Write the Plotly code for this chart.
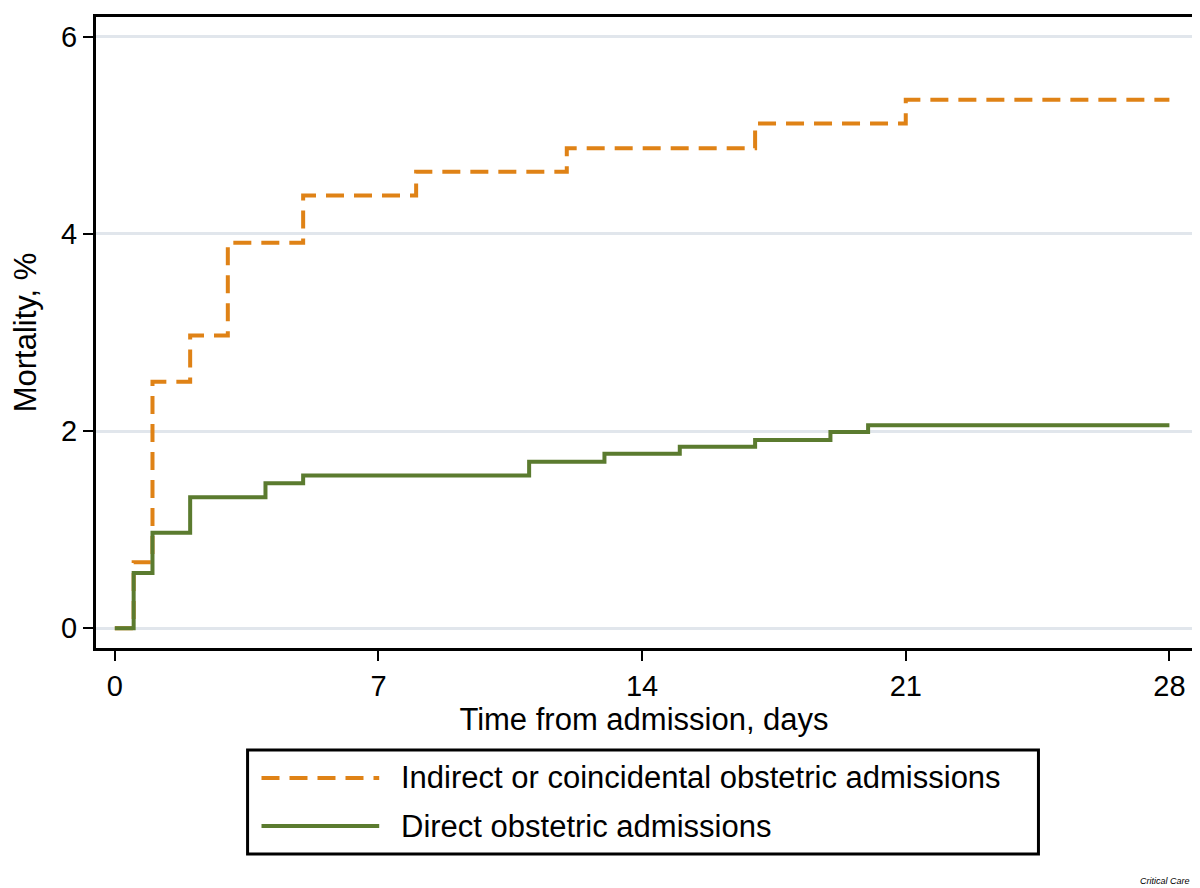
import plotly.graph_objects as go

# Data (days, mortality %)
indirect_days = [0, 0.5, 1, 2, 3, 5, 8, 12, 17, 21, 28]
indirect_mort = [0, 0.67, 2.50, 2.97, 3.91, 4.39, 4.63, 4.87, 5.12, 5.36, 5.36]

direct_days = [0, 0.5, 1, 2, 4, 5, 11, 13, 15, 17, 19, 20, 28]
direct_mort = [0, 0.56, 0.97, 1.33, 1.47, 1.55, 1.69, 1.77, 1.84, 1.91, 1.99, 2.06, 2.06]

x_ticks = [0, 7, 14, 21, 28]
y_ticks = [0, 2, 4, 6]

series_names = ["Indirect or coincidental obstetric admissions", "Direct obstetric admissions"]

ORANGE = "#DF8216"
GREEN = "#5B7B2F"
FONT = "Liberation Sans, Arial, Helvetica, sans-serif"

fig = go.Figure()
fig.add_trace(go.Scatter(x=indirect_days, y=indirect_mort, mode="lines", line_shape="hv",
                         line=dict(color=ORANGE, width=4, dash="18px,10px"),
                         name=series_names[0], showlegend=False))
fig.add_trace(go.Scatter(x=direct_days, y=direct_mort, mode="lines", line_shape="hv",
                         line=dict(color=GREEN, width=4),
                         name=series_names[1], showlegend=False))

axis_common = dict(showline=True, mirror=True, linecolor="black", linewidth=3,
                   ticks="outside", ticklen=10, tickwidth=2, tickcolor="black",
                   tickfont=dict(size=29, color="black", family=FONT),
                   zeroline=False)

fig.update_xaxes(range=[-0.5, 28.6], tickvals=x_ticks, showgrid=False,
                 title=dict(text="Time from admission, days", font=dict(size=31, color="black", family=FONT), standoff=0),
                 **axis_common)
fig.update_yaxes(range=[-0.2, 6.2], tickvals=y_ticks, showgrid=True, gridcolor="#E1E6EC", gridwidth=3,
                 title=dict(text="Mortality, %", font=dict(size=31, color="black", family=FONT), standoff=22),
                 **axis_common)

# Manual legend box (paper coordinates)
shapes = [
    dict(type="rect", xref="paper", yref="paper", x0=0.1383, x1=0.8599, y0=-0.3265, y1=-0.1616,
         line=dict(color="black", width=3), fillcolor="white"),
    dict(type="line", xref="paper", yref="paper", x0=0.1510, x1=0.2584, y0=-0.2060, y1=-0.2060,
         line=dict(color=ORANGE, width=4, dash="18px,10px")),
    dict(type="line", xref="paper", yref="paper", x0=0.1510, x1=0.2584, y0=-0.2821, y1=-0.2821,
         line=dict(color=GREEN, width=4)),
]
annotations = [
    dict(xref="paper", yref="paper", x=0.2766, y=-0.2060, xanchor="left", yanchor="middle",
         text=series_names[0], showarrow=False, font=dict(size=31, color="black", family=FONT)),
    dict(xref="paper", yref="paper", x=0.2766, y=-0.2821, xanchor="left", yanchor="middle",
         text=series_names[1], showarrow=False, font=dict(size=31, color="black", family=FONT)),
    dict(xref="paper", yref="paper", x=1.0, y=-0.3693, xanchor="right", yanchor="middle",
         text="<i>Critical Care</i>", showarrow=False, font=dict(size=9, color="black", family=FONT)),
]

# The page body has an 8px margin; the figure is sized/margined so the plot frame lands
# at the same page pixels as the reference (x 96-1195, y 17-648).
fig.update_layout(width=1192, height=880, margin=dict(l=88, r=5, t=9, b=240),
                  plot_bgcolor="white", paper_bgcolor="white",
                  shapes=shapes, annotations=annotations, showlegend=False)

fig.write_html("out.html")
